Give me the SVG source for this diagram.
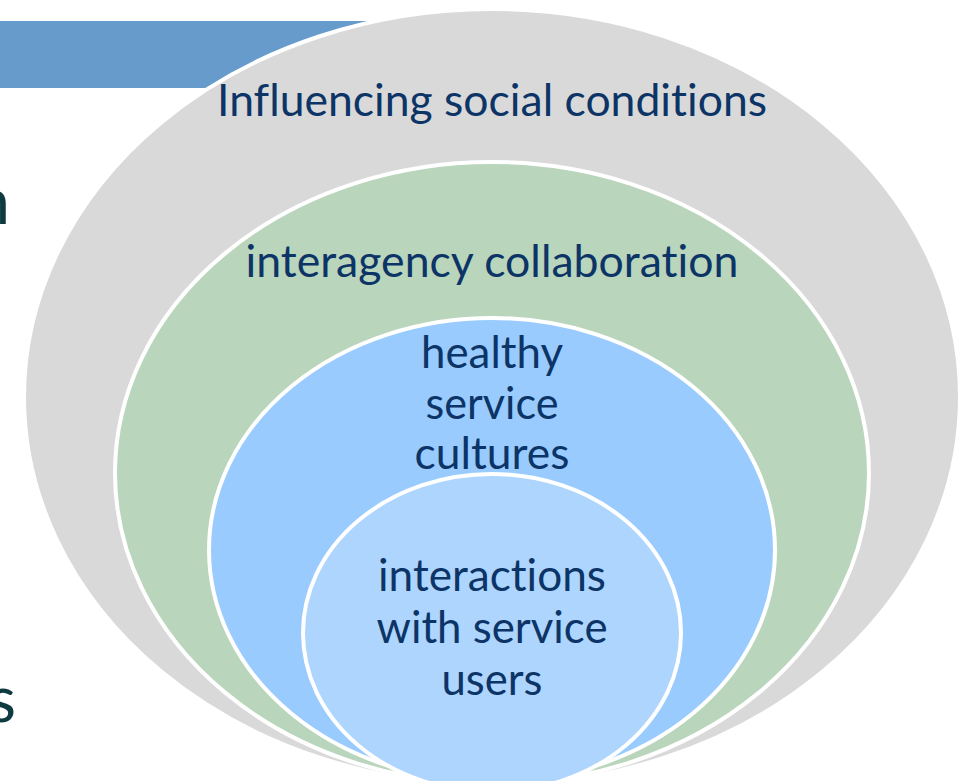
<svg xmlns="http://www.w3.org/2000/svg" width="968" height="781" viewBox="0 0 968 781">
<style>
.ring{stroke:#FFFFFF;stroke-width:4}
.lbl{font-family:Lato,"Liberation Sans",sans-serif;font-size:44px;fill:#0C3466;text-anchor:middle;font-variant-ligatures:none}
.frag{font-family:Lato,"Liberation Sans",sans-serif;font-size:64px;fill:#0E3B40;text-anchor:end}
</style>
<rect width="968" height="781" fill="#FFFFFF"/>
<rect id="title-bar" x="0" y="21" width="420" height="67" fill="#669BCB"/>
<text class="frag" x="10" y="224">n</text>
<text class="frag" x="16" y="722">s</text>
<g id="social-conditions">
<ellipse class="ring" cx="492" cy="397" rx="468" ry="388" fill="#D9D9D9"/>
<text class="lbl" x="492" y="116" textLength="550" lengthAdjust="spacingAndGlyphs">Influencing social conditions</text>
</g>
<g id="interagency">
<ellipse class="ring" cx="492" cy="473" rx="377" ry="311" fill="#B9D5BB"/>
<text class="lbl" x="492" y="277" textLength="493" lengthAdjust="spacingAndGlyphs">interagency collaboration</text>
</g>
<g id="service-cultures">
<ellipse class="ring" cx="492" cy="550" rx="283" ry="232" fill="#99CBFF"/>
<text class="lbl" x="492" y="368" textLength="142" lengthAdjust="spacingAndGlyphs">healthy</text>
<text class="lbl" x="492" y="419" textLength="133" lengthAdjust="spacingAndGlyphs">service</text>
<text class="lbl" x="492" y="469" textLength="155" lengthAdjust="spacingAndGlyphs">cultures</text>
</g>
<g id="interactions">
<ellipse class="ring" cx="492" cy="633" rx="189" ry="159" fill="#ADD5FD"/>
<text class="lbl" x="492" y="591" textLength="228" lengthAdjust="spacingAndGlyphs">interactions</text>
<text class="lbl" x="492" y="643" textLength="231" lengthAdjust="spacingAndGlyphs">with service</text>
<text class="lbl" x="492" y="695" textLength="101" lengthAdjust="spacingAndGlyphs">users</text>
</g>
<g id="connectors"/>
</svg>
